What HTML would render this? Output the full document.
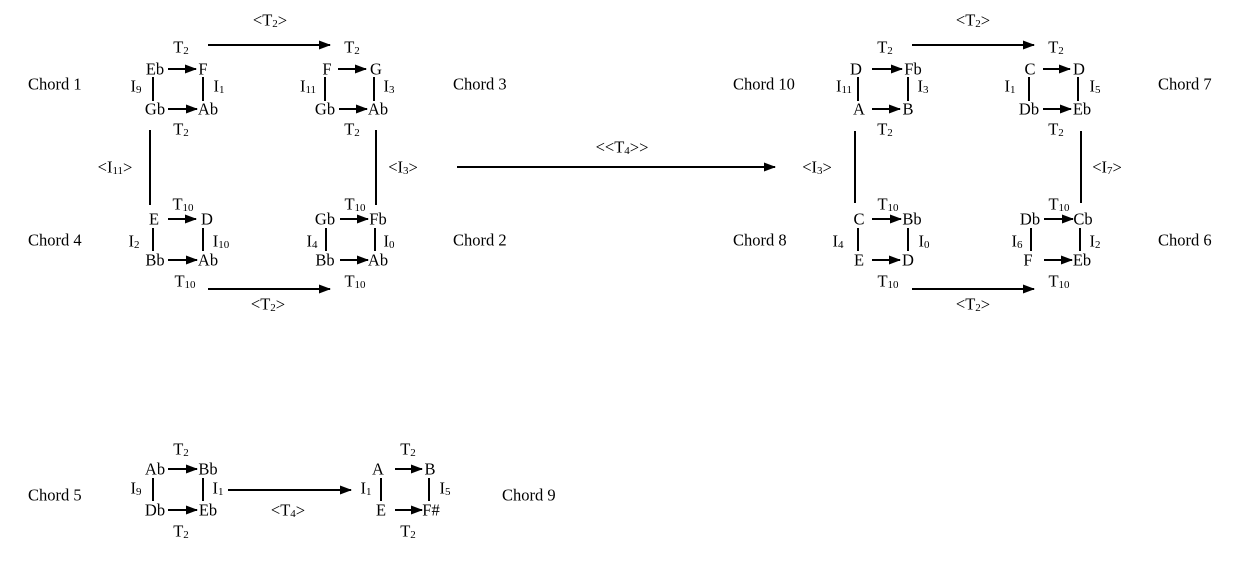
<!DOCTYPE html>
<html><head><meta charset="utf-8"><style>
html,body{margin:0;padding:0;background:#fff;}
svg{display:block;font-family:"Liberation Serif",serif;font-size:16.5px;}
text{text-anchor:middle;dominant-baseline:central;fill:#000;}
.l{text-anchor:start;}
line{stroke:#000;stroke-width:2;}
tspan[font-size]{font-size:11px;}
</style></head><body>
<svg width="1238" height="575" viewBox="0 0 1238 575" xmlns="http://www.w3.org/2000/svg">
<defs><marker id="a" markerUnits="userSpaceOnUse" markerWidth="12" markerHeight="10" refX="11" refY="4.5" orient="auto"><path d="M0,0 L12,4.5 L0,9 z" fill="#000"/></marker></defs>

<text class="l" x="28" y="84">Chord 1</text>
<text class="l" x="453" y="84">Chord 3</text>
<text class="l" x="28" y="240">Chord 4</text>
<text class="l" x="453" y="240">Chord 2</text>
<text class="l" x="733" y="84">Chord 10</text>
<text class="l" x="1158" y="84">Chord 7</text>
<text class="l" x="733" y="240">Chord 8</text>
<text class="l" x="1158" y="240">Chord 6</text>
<text class="l" x="28" y="495">Chord 5</text>
<text class="l" x="502" y="495">Chord 9</text>

<!-- Chord 1 -->
<text x="181" y="47">T<tspan font-size="10" dy="4">2</tspan></text>
<text x="155" y="69">Eb</text><text x="203" y="69">F</text>
<line x1="168" y1="69" x2="196" y2="69" marker-end="url(#a)"/>
<line x1="153" y1="77" x2="153" y2="101"/><line x1="203" y1="77" x2="203" y2="101"/>
<text x="136" y="86">I<tspan font-size="10" dy="4">9</tspan></text>
<text x="219" y="86">I<tspan font-size="10" dy="4">1</tspan></text>
<text x="155" y="109">Gb</text><text x="208" y="109">Ab</text>
<line x1="168" y1="109" x2="197" y2="109" marker-end="url(#a)"/>
<text x="181" y="129">T<tspan font-size="10" dy="4">2</tspan></text>

<!-- Chord 3 -->
<text x="352" y="47">T<tspan font-size="10" dy="4">2</tspan></text>
<text x="327" y="69">F</text><text x="376" y="69">G</text>
<line x1="338" y1="69" x2="366" y2="69" marker-end="url(#a)"/>
<line x1="325" y1="77" x2="325" y2="101"/><line x1="374" y1="77" x2="374" y2="101"/>
<text x="308" y="86">I<tspan font-size="10" dy="4">11</tspan></text>
<text x="389" y="86">I<tspan font-size="10" dy="4">3</tspan></text>
<text x="325" y="109">Gb</text><text x="378" y="109">Ab</text>
<line x1="339" y1="109" x2="367" y2="109" marker-end="url(#a)"/>
<text x="352" y="129">T<tspan font-size="10" dy="4">2</tspan></text>

<line x1="208" y1="45" x2="330" y2="45" marker-end="url(#a)"/>
<text x="270" y="20">&lt;T<tspan font-size="10" dy="4">2</tspan><tspan dy="-4">&gt;</tspan></text>
<line x1="150" y1="130" x2="150" y2="205"/>
<text x="115" y="167">&lt;I<tspan font-size="10" dy="4">11</tspan><tspan dy="-4">&gt;</tspan></text>
<line x1="376" y1="130" x2="376" y2="205"/>
<text x="403" y="167">&lt;I<tspan font-size="10" dy="4">3</tspan><tspan dy="-4">&gt;</tspan></text>

<!-- Chord 4 -->
<text x="183" y="204">T<tspan font-size="10" dy="4">10</tspan></text>
<text x="154" y="219">E</text><text x="207" y="219">D</text>
<line x1="168" y1="219" x2="196" y2="219" marker-end="url(#a)"/>
<line x1="153" y1="228" x2="153" y2="251"/><line x1="203" y1="228" x2="203" y2="251"/>
<text x="134" y="241">I<tspan font-size="10" dy="4">2</tspan></text>
<text x="221" y="241">I<tspan font-size="10" dy="4">10</tspan></text>
<text x="155" y="260">Bb</text><text x="208" y="260">Ab</text>
<line x1="168" y1="260" x2="197" y2="260" marker-end="url(#a)"/>
<text x="185" y="281">T<tspan font-size="10" dy="4">10</tspan></text>

<!-- Chord 2 -->
<text x="355" y="204">T<tspan font-size="10" dy="4">10</tspan></text>
<text x="325" y="219">Gb</text><text x="378" y="219">Fb</text>
<line x1="340" y1="219" x2="368" y2="219" marker-end="url(#a)"/>
<line x1="326" y1="228" x2="326" y2="251"/><line x1="375" y1="228" x2="375" y2="251"/>
<text x="312" y="241">I<tspan font-size="10" dy="4">4</tspan></text>
<text x="389" y="241">I<tspan font-size="10" dy="4">0</tspan></text>
<text x="325" y="260">Bb</text><text x="378" y="260">Ab</text>
<line x1="340" y1="260" x2="368" y2="260" marker-end="url(#a)"/>
<text x="355" y="281">T<tspan font-size="10" dy="4">10</tspan></text>

<line x1="208" y1="289" x2="330" y2="289" marker-end="url(#a)"/>
<text x="268" y="304">&lt;T<tspan font-size="10" dy="4">2</tspan><tspan dy="-4">&gt;</tspan></text>

<line x1="457" y1="167" x2="775" y2="167" marker-end="url(#a)"/>
<text x="622" y="147">&lt;&lt;T<tspan font-size="10" dy="4">4</tspan><tspan dy="-4">&gt;&gt;</tspan></text>

<!-- Chord 10 -->
<text x="885" y="47">T<tspan font-size="10" dy="4">2</tspan></text>
<text x="856" y="69">D</text><text x="913" y="69">Fb</text>
<line x1="872" y1="69" x2="902" y2="69" marker-end="url(#a)"/>
<line x1="858" y1="77" x2="858" y2="101"/><line x1="908" y1="77" x2="908" y2="101"/>
<text x="844" y="86">I<tspan font-size="10" dy="4">11</tspan></text>
<text x="923" y="86">I<tspan font-size="10" dy="4">3</tspan></text>
<text x="859" y="109">A</text><text x="908" y="109">B</text>
<line x1="872" y1="109" x2="900" y2="109" marker-end="url(#a)"/>
<text x="885" y="129">T<tspan font-size="10" dy="4">2</tspan></text>

<!-- Chord 7 -->
<text x="1056" y="47">T<tspan font-size="10" dy="4">2</tspan></text>
<text x="1030" y="69">C</text><text x="1079" y="69">D</text>
<line x1="1043" y1="69" x2="1070" y2="69" marker-end="url(#a)"/>
<line x1="1029" y1="77" x2="1029" y2="101"/><line x1="1078" y1="77" x2="1078" y2="101"/>
<text x="1010" y="86">I<tspan font-size="10" dy="4">1</tspan></text>
<text x="1095" y="86">I<tspan font-size="10" dy="4">5</tspan></text>
<text x="1029" y="109">Db</text><text x="1082" y="109">Eb</text>
<line x1="1043" y1="109" x2="1071" y2="109" marker-end="url(#a)"/>
<text x="1056" y="129">T<tspan font-size="10" dy="4">2</tspan></text>

<line x1="912" y1="45" x2="1034" y2="45" marker-end="url(#a)"/>
<text x="973" y="20">&lt;T<tspan font-size="10" dy="4">2</tspan><tspan dy="-4">&gt;</tspan></text>
<line x1="855" y1="131" x2="855" y2="203"/>
<text x="817" y="167">&lt;I<tspan font-size="10" dy="4">3</tspan><tspan dy="-4">&gt;</tspan></text>
<line x1="1081" y1="131" x2="1081" y2="203"/>
<text x="1107" y="167">&lt;I<tspan font-size="10" dy="4">7</tspan><tspan dy="-4">&gt;</tspan></text>

<!-- Chord 8 -->
<text x="888" y="204">T<tspan font-size="10" dy="4">10</tspan></text>
<text x="859" y="219">C</text><text x="912" y="219">Bb</text>
<line x1="872" y1="219" x2="901" y2="219" marker-end="url(#a)"/>
<line x1="858" y1="228" x2="858" y2="251"/><line x1="908" y1="228" x2="908" y2="251"/>
<text x="838" y="241">I<tspan font-size="10" dy="4">4</tspan></text>
<text x="924" y="241">I<tspan font-size="10" dy="4">0</tspan></text>
<text x="859" y="260">E</text><text x="908" y="260">D</text>
<line x1="872" y1="260" x2="900" y2="260" marker-end="url(#a)"/>
<text x="888" y="281">T<tspan font-size="10" dy="4">10</tspan></text>

<!-- Chord 6 -->
<text x="1059" y="204">T<tspan font-size="10" dy="4">10</tspan></text>
<text x="1030" y="219">Db</text><text x="1083" y="219">Cb</text>
<line x1="1044" y1="219" x2="1073" y2="219" marker-end="url(#a)"/>
<line x1="1031" y1="228" x2="1031" y2="251"/><line x1="1080" y1="228" x2="1080" y2="251"/>
<text x="1017" y="241">I<tspan font-size="10" dy="4">6</tspan></text>
<text x="1095" y="241">I<tspan font-size="10" dy="4">2</tspan></text>
<text x="1028" y="260">F</text><text x="1082" y="260">Eb</text>
<line x1="1044" y1="260" x2="1072" y2="260" marker-end="url(#a)"/>
<text x="1059" y="281">T<tspan font-size="10" dy="4">10</tspan></text>

<line x1="912" y1="289" x2="1034" y2="289" marker-end="url(#a)"/>
<text x="973" y="304">&lt;T<tspan font-size="10" dy="4">2</tspan><tspan dy="-4">&gt;</tspan></text>

<!-- Chord 5 -->
<text x="181" y="449">T<tspan font-size="10" dy="4">2</tspan></text>
<text x="155" y="469">Ab</text><text x="208" y="469">Bb</text>
<line x1="168" y1="469" x2="197" y2="469" marker-end="url(#a)"/>
<line x1="153" y1="478" x2="153" y2="501"/><line x1="203" y1="478" x2="203" y2="501"/>
<text x="136" y="488">I<tspan font-size="10" dy="4">9</tspan></text>
<text x="218" y="488">I<tspan font-size="10" dy="4">1</tspan></text>
<text x="155" y="510">Db</text><text x="208" y="510">Eb</text>
<line x1="168" y1="510" x2="197" y2="510" marker-end="url(#a)"/>
<text x="181" y="531">T<tspan font-size="10" dy="4">2</tspan></text>

<line x1="228" y1="490" x2="351" y2="490" marker-end="url(#a)"/>
<text x="288" y="510">&lt;T<tspan font-size="10" dy="4">4</tspan><tspan dy="-4">&gt;</tspan></text>

<!-- Chord 9 -->
<text x="408" y="449">T<tspan font-size="10" dy="4">2</tspan></text>
<text x="378" y="469">A</text><text x="430" y="469">B</text>
<line x1="395" y1="469" x2="422" y2="469" marker-end="url(#a)"/>
<line x1="381" y1="478" x2="381" y2="501"/><line x1="429" y1="478" x2="429" y2="501"/>
<text x="366" y="488">I<tspan font-size="10" dy="4">1</tspan></text>
<text x="445" y="488">I<tspan font-size="10" dy="4">5</tspan></text>
<text x="381" y="510">E</text><text x="431" y="510">F#</text>
<line x1="395" y1="510" x2="422" y2="510" marker-end="url(#a)"/>
<text x="408" y="531">T<tspan font-size="10" dy="4">2</tspan></text>
</svg>
</body></html>
